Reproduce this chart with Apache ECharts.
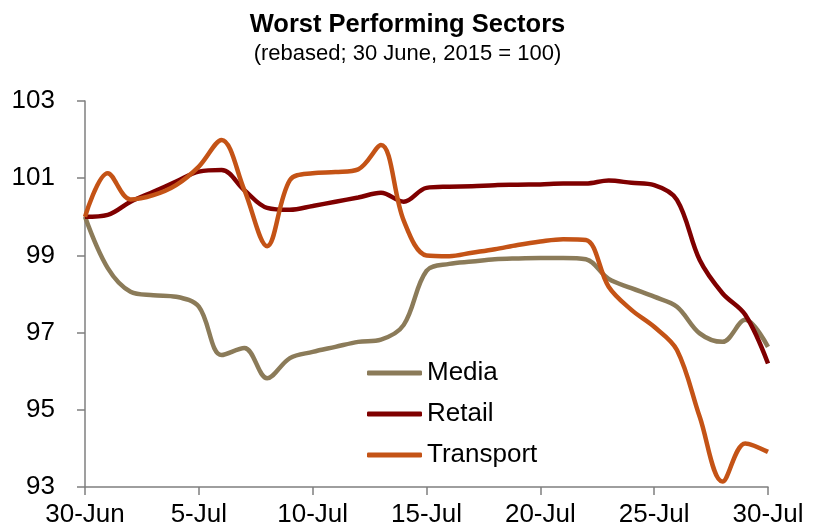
<!DOCTYPE html>
<html>
<head>
<meta charset="utf-8">
<script src="https://cdn.jsdelivr.net/npm/echarts@6/dist/echarts.min.js"></script>
<style>
    html, body {margin: 0; padding: 0; background: #fff;}
    #chart {width: 815px; height: 531px;}
</style>
</head>
<body>
<div id="chart"></div>
<script>
// days since 30 June 2015
const days = [0, 1, 2, 3, 4, 5, 6, 7, 8, 9, 10, 11, 12, 13, 14, 15, 16, 17, 18, 19, 20, 21, 22, 23, 24, 25, 26, 27, 28, 29, 30];
const tickLabels = ['30-Jun', '5-Jul', '10-Jul', '15-Jul', '20-Jul', '25-Jul', '30-Jul'];

const media = [100, 98.67, 98.06, 97.97, 97.93, 97.67, 96.42, 96.6, 95.82, 96.34, 96.5, 96.63, 96.76, 96.82, 97.2,
    98.6, 98.78, 98.84, 98.9, 98.92, 98.93, 98.93, 98.9, 98.39, 98.15, 97.93, 97.67, 96.98, 96.76, 97.33, 96.63];
const retail = [100, 100.05, 100.39, 100.65, 100.91, 101.17, 101.21, 100.69, 100.23, 100.18, 100.28, 100.39, 100.5, 100.62, 100.39,
    100.75, 100.78, 100.79, 100.82, 100.83, 100.84, 100.86, 100.86, 100.94, 100.88, 100.82, 100.44, 98.88, 98.02, 97.46, 96.2];
const transport = [100, 101.13, 100.45, 100.56, 100.82, 101.3, 101.99, 100.69, 99.24, 100.95, 101.13, 101.16, 101.23, 101.86, 99.9,
    99.0, 98.98, 99.07, 99.16, 99.27, 99.36, 99.42, 99.4, 98.19, 97.59, 97.15, 96.55, 94.82, 93.14, 94.13, 93.91];

function pairs(values) {
    let list = [];
    for (let i = 0; i < days.length; i++) {
        list.push([days[i], values[i]]);
    }
    return list;
}

let chart = echarts.init(document.getElementById('chart'));
chart.setOption({
    animation: false,
    textStyle: {fontFamily: 'Liberation Sans, Arial, sans-serif', color: '#000'},
    title: {
        text: 'Worst Performing Sectors',
        subtext: '(rebased; 30 June, 2015 = 100)',
        left: 'center',
        top: 7,
        itemGap: 5,
        textStyle: {fontSize: 25.5, fontWeight: 'bold', color: '#000'},
        subtextStyle: {fontSize: 22, color: '#000'}
    },
    legend: {
        orient: 'vertical',
        left: 362,
        top: 355,
        icon: 'roundRect',
        itemWidth: 55,
        itemHeight: 5,
        itemGap: 15,
        textStyle: {fontSize: 26, color: '#000'},
        data: ['Media', 'Retail', 'Transport']
    },
    grid: {
        left: 85,
        right: 47,
        top: 101,
        bottom: 44
    },
    xAxis: {
        type: 'value',
        min: 0,
        max: 30,
        interval: 5,
        splitLine: {show: false},
        axisLine: {lineStyle: {color: '#7f7f7f', width: 1.5}},
        axisTick: {length: 8, lineStyle: {color: '#7f7f7f', width: 1.5}},
        axisLabel: {
            fontSize: 26,
            color: '#000',
            margin: 15,
            formatter: function (v) {
                return tickLabels[Math.round(v / 5)];
            }
        }
    },
    yAxis: {
        type: 'value',
        min: 93,
        max: 103,
        interval: 2,
        splitLine: {show: false},
        axisLine: {show: true, lineStyle: {color: '#7f7f7f', width: 1.5}},
        axisTick: {show: true, length: 8, lineStyle: {color: '#7f7f7f', width: 1.5}},
        axisLabel: {fontSize: 26, color: '#000', margin: 30}
    },
    series: [
        {
            name: 'Media',
            type: 'line',
            smooth: 0.35,
            showSymbol: false,
            color: '#8B7B59',
            lineStyle: {width: 4.5, color: '#8B7B59'},
            data: pairs(media)
        },
        {
            name: 'Retail',
            type: 'line',
            smooth: 0.35,
            showSymbol: false,
            color: '#7F0000',
            lineStyle: {width: 4.5, color: '#7F0000'},
            data: pairs(retail)
        },
        {
            name: 'Transport',
            type: 'line',
            smooth: 0.35,
            showSymbol: false,
            color: '#C45316',
            lineStyle: {width: 4.5, color: '#C45316'},
            data: pairs(transport)
        }
    ]
});
</script>
</body>
</html>
